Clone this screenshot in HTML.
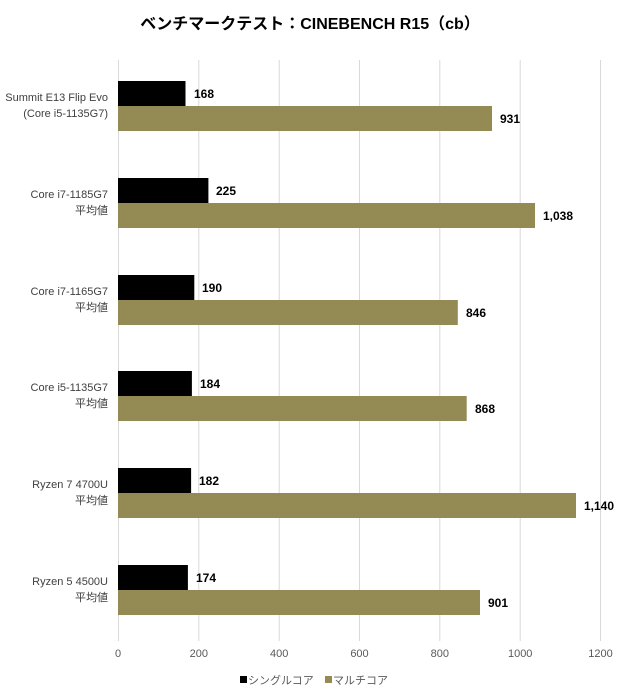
<!DOCTYPE html>
<html><head><meta charset="utf-8"><style>
body{margin:0;background:#fff;}
svg text{font-family:"Liberation Sans","Noto Sans CJK JP",sans-serif;}
</style></head><body>
<svg width="620" height="695" viewBox="0 0 620 695" xmlns="http://www.w3.org/2000/svg">
<rect width="620" height="695" fill="#fff"/>
<text x="310" y="29" text-anchor="middle" font-size="16" font-weight="bold" fill="#000">ベンチマークテスト：CINEBENCH R15（cb）</text>
<g stroke="#d9d9d9" stroke-width="1">
<line x1="118.5" y1="60" x2="118.5" y2="641"/>
<line x1="198.8" y1="60" x2="198.8" y2="641"/>
<line x1="279.2" y1="60" x2="279.2" y2="641"/>
<line x1="359.5" y1="60" x2="359.5" y2="641"/>
<line x1="439.8" y1="60" x2="439.8" y2="641"/>
<line x1="520.2" y1="60" x2="520.2" y2="641"/>
<line x1="600.5" y1="60" x2="600.5" y2="641"/>
</g>
<g font-size="11" fill="#595959" text-anchor="middle">
<text x="118" y="657">0</text><text x="198.8" y="657">200</text><text x="279.2" y="657">400</text><text x="359.5" y="657">600</text><text x="439.8" y="657">800</text><text x="520.2" y="657">1000</text><text x="600.5" y="657">1200</text>
</g>
<g id="bars">
<!-- cat 1 -->
<rect x="118" y="81" width="67.5" height="25" fill="#000"/>
<rect x="118" y="106" width="374" height="25" fill="#948a54"/>
<rect x="118" y="178" width="90.4" height="25" fill="#000"/>
<rect x="118" y="203" width="417" height="25" fill="#948a54"/>
<rect x="118" y="275" width="76.3" height="25" fill="#000"/>
<rect x="118" y="300" width="339.8" height="25" fill="#948a54"/>
<rect x="118" y="371" width="73.9" height="25" fill="#000"/>
<rect x="118" y="396" width="348.7" height="25" fill="#948a54"/>
<rect x="118" y="468" width="73.1" height="25" fill="#000"/>
<rect x="118" y="493" width="458" height="25" fill="#948a54"/>
<rect x="118" y="565" width="69.9" height="25" fill="#000"/>
<rect x="118" y="590" width="362" height="25" fill="#948a54"/>
</g>
<g font-size="12" font-weight="bold" fill="#000">
<text x="194" y="98">168</text><text x="500" y="123">931</text>
<text x="216" y="195">225</text><text x="543" y="220">1,038</text>
<text x="202" y="292">190</text><text x="466" y="317">846</text>
<text x="200" y="388">184</text><text x="475" y="413">868</text>
<text x="199" y="485">182</text><text x="584" y="510">1,140</text>
<text x="196" y="582">174</text><text x="488" y="607">901</text>
</g>
<g font-size="11" fill="#404040" text-anchor="end">
<text x="108" y="101">Summit E13 Flip Evo</text><text x="108" y="117">(Core i5-1135G7)</text>
<text x="108" y="198">Core i7-1185G7</text><text x="108" y="214">平均値</text>
<text x="108" y="295">Core i7-1165G7</text><text x="108" y="311">平均値</text>
<text x="108" y="391">Core i5-1135G7</text><text x="108" y="407">平均値</text>
<text x="108" y="488">Ryzen 7 4700U</text><text x="108" y="504">平均値</text>
<text x="108" y="585">Ryzen 5 4500U</text><text x="108" y="601">平均値</text>
</g>
<rect x="240" y="676" width="7" height="7" fill="#000"/>
<text x="248" y="684" font-size="11" fill="#595959">シングルコア</text>
<rect x="325" y="676" width="7" height="7" fill="#948a54"/>
<text x="333" y="684" font-size="11" fill="#595959">マルチコア</text>
</svg>
</body></html>
